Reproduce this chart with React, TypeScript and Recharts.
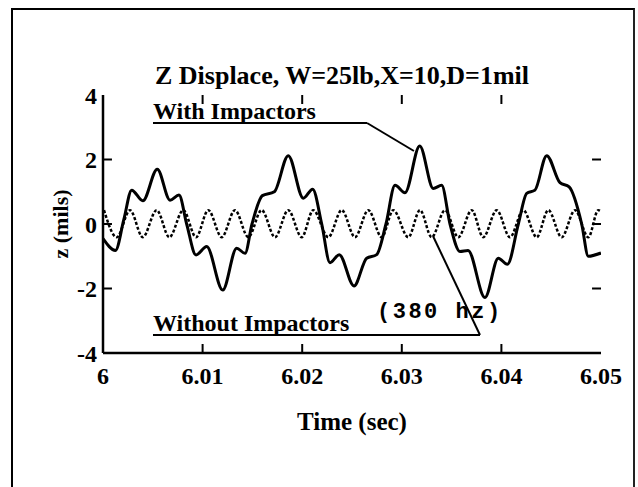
import {
  Line,
  LineChart,
  ReferenceDot,
  ReferenceLine,
  XAxis,
  YAxis,
} from 'recharts';

// time axis (sec) and displacement axis (mils)
const timeTicks = [6, 6.01, 6.02, 6.03, 6.04, 6.05];
const zTicks = [-4, -2, 0, 2, 4];

// "With Impactors" trace at its peaks, dips and crossings
const withTimes = [
  6.0, 6.00125, 6.0021, 6.00288, 6.004, 6.00545, 6.00673, 6.00763, 6.0084, 6.00934,
  6.01041, 6.01202, 6.01342, 6.01426, 6.01496, 6.016, 6.0172, 6.0186, 6.02011, 6.02105,
  6.02196, 6.02279, 6.02372, 6.0252, 6.02647, 6.02748, 6.02841, 6.02932, 6.03032, 6.0318,
  6.03316, 6.034, 6.03484, 6.03584, 6.03665, 6.03835, 6.03969, 6.0406, 6.0417, 6.04254,
  6.04337, 6.04455, 6.04588, 6.0468, 6.04806, 6.04873, 6.05,
];
const withValues = [
  -0.45, -0.82, 0.15, 1.05, 0.72, 1.7, 0.74, 0.9, 0.0, -0.96,
  -0.7, -2.05, -0.75, -0.91, 0.0, 0.88, 1.0, 2.12, 0.8, 1.08,
  0.0, -1.2, -0.95, -1.92, -1.06, -0.95, 0.0, 1.2, 0.97, 2.42,
  1.1, 1.2, 0.0, -0.85, -0.82, -2.28, -1.06, -1.25, 0.0, 0.95,
  1.05, 2.12, 1.28, 1.15, 0.0, -1.0, -0.9,
];

// "Without Impactors" trace (380 hz), peaks and troughs
const withoutTimes = [
  6.0001, 6.00138, 6.00271, 6.00399, 6.00539, 6.00666, 6.00806, 6.00934, 6.01057, 6.01192,
  6.01325, 6.01459, 6.01593, 6.01727, 6.0186, 6.01995, 6.02111, 6.02262, 6.02397, 6.0253,
  6.02664, 6.02798, 6.02915, 6.03065, 6.03183, 6.033, 6.03434, 6.03567, 6.03702, 6.03818,
  6.03953, 6.04086, 6.0422, 6.04354, 6.04471, 6.04605, 6.04739, 6.04873, 6.04973, 6.05,
];
const withoutValues = [
  0.43, -0.41, 0.43, -0.41, 0.43, -0.41, 0.43, -0.41, 0.43, -0.41,
  0.43, -0.41, 0.43, -0.41, 0.43, -0.41, 0.43, -0.41, 0.43, -0.41,
  0.43, -0.41, 0.43, -0.41, 0.43, -0.41, 0.43, -0.41, 0.43, -0.41,
  0.43, -0.41, 0.43, -0.41, 0.43, -0.41, 0.43, -0.41, 0.43, 0.4,
];

const withData = withTimes.map((t, i) => ({ t, z: withValues[i] }));
const withoutData = withoutTimes.map((t, i) => ({ t, z: withoutValues[i] }));

const serif = "'Liberation Serif', 'Times New Roman', serif";
const mono = "'Liberation Mono', 'Courier New', monospace";

// inward tick length, in data units
const TX = 0.0009;
const TY = 0.28;

const textAt =
  (label: string, family: string, size: number, spacing = 0) =>
  (p: any) => (
    <text
      x={p.cx}
      y={p.cy}
      fontFamily={family}
      fontSize={size}
      fontWeight="bold"
      letterSpacing={spacing}
      fill="#000"
    >
      {label}
    </text>
  );

const tickFmt = (v: number) => (v === 6 ? '6' : v.toFixed(2));

export default function App() {
  const tickStyle = { fontFamily: serif, fontSize: 24, fontWeight: 'bold', fill: '#000' };
  const inner = (v: number, lo: number, hi: number) => v > lo && v < hi;

  return (
    <div
      style={{
        position: 'absolute',
        left: 0,
        top: 0,
        width: 638,
        height: 487,
        background: '#fff',
        overflow: 'hidden',
      }}
    >
      <div
        style={{
          position: 'absolute',
          left: 11,
          top: 8,
          width: 620,
          height: 490,
          borderLeft: '2px solid #000',
          borderTop: '2px solid #000',
          borderRight: '2px solid #222',
        }}
      />
      <LineChart
        width={638}
        height={487}
        margin={{ top: 95, right: 37, bottom: 104, left: 53 }}
        style={{ position: 'absolute', left: 0, top: 0 }}
      >
        <XAxis
          dataKey="t"
          type="number"
          domain={[6, 6.05]}
          ticks={timeTicks}
          tickFormatter={tickFmt}
          allowDataOverflow
          height={30}
          axisLine={{ stroke: '#000', strokeWidth: 2.5 }}
          tickLine={false}
          tickSize={0}
          tickMargin={14}
          tick={tickStyle}
          interval={0}
        />
        <XAxis
          xAxisId="top"
          orientation="top"
          dataKey="t"
          type="number"
          domain={[6, 6.05]}
          ticks={timeTicks}
          tick={false}
          tickLine={false}
          height={0}
          axisLine={{ stroke: '#000', strokeWidth: 2.5 }}
        />
        <YAxis
          type="number"
          domain={[-4, 4]}
          ticks={zTicks}
          allowDataOverflow
          width={50}
          axisLine={{ stroke: '#000', strokeWidth: 2.5 }}
          tickLine={false}
          tickSize={0}
          tickMargin={6}
          tick={tickStyle}
          interval={0}
        />
        <YAxis
          yAxisId="right"
          orientation="right"
          type="number"
          domain={[-4, 4]}
          ticks={zTicks}
          tick={false}
          tickLine={false}
          width={0}
          axisLine={{ stroke: '#000', strokeWidth: 2.5 }}
        />

        {/* inward ticks on all four sides */}
        {timeTicks
          .filter((t) => inner(t, 6, 6.05))
          .map((t) => (
            <ReferenceLine
              key={`b${t}`}
              segment={[
                { x: t, y: -4 },
                { x: t, y: -4 + TY },
              ]}
              stroke="#000"
              strokeWidth={2}
            />
          ))}
        {timeTicks
          .filter((t) => inner(t, 6, 6.05))
          .map((t) => (
            <ReferenceLine
              key={`t${t}`}
              segment={[
                { x: t, y: 4 },
                { x: t, y: 4 - TY },
              ]}
              stroke="#000"
              strokeWidth={2}
            />
          ))}
        {zTicks
          .filter((z) => inner(z, -4, 4))
          .map((z) => (
            <ReferenceLine
              key={`l${z}`}
              segment={[
                { x: 6, y: z },
                { x: 6 + TX, y: z },
              ]}
              stroke="#000"
              strokeWidth={2}
            />
          ))}
        {zTicks
          .filter((z) => inner(z, -4, 4))
          .map((z) => (
            <ReferenceLine
              key={`r${z}`}
              segment={[
                { x: 6.05, y: z },
                { x: 6.05 - TX, y: z },
              ]}
              stroke="#000"
              strokeWidth={2}
            />
          ))}

        <Line
          data={withoutData}
          dataKey="z"
          type="monotone"
          stroke="#000"
          strokeWidth={2.5}
          strokeDasharray="3 2"
          dot={false}
          isAnimationActive={false}
        />
        <Line
          data={withData}
          dataKey="z"
          type="monotone"
          stroke="#000"
          strokeWidth={3}
          dot={false}
          isAnimationActive={false}
        />

        {/* With Impactors label, underline and leader */}
        <ReferenceLine
          segment={[
            { x: 6.00502, y: 3.132 },
            { x: 6.02651, y: 3.132 },
          ]}
          stroke="#000"
          strokeWidth={2}
        />
        <ReferenceLine
          segment={[
            { x: 6.02651, y: 3.132 },
            { x: 6.03122, y: 2.264 },
          ]}
          stroke="#000"
          strokeWidth={2}
        />
        <ReferenceDot x={6.00502} y={3.256} r={0} shape={textAt('With Impactors', serif, 24)} />

        {/* Without Impactors label, underline and leader */}
        <ReferenceLine
          segment={[
            { x: 6.00502, y: -3.442 },
            { x: 6.03785, y: -3.442 },
          ]}
          stroke="#000"
          strokeWidth={2}
        />
        <ReferenceLine
          segment={[
            { x: 6.03785, y: -3.442 },
            { x: 6.03313, y: -0.372 },
          ]}
          stroke="#000"
          strokeWidth={2}
        />
        <ReferenceDot x={6.00502} y={-3.318} r={0} shape={textAt('Without Impactors', serif, 24)} />
        <ReferenceDot x={6.02751} y={-2.915} r={0} shape={textAt('(380 hz)', mono, 22, 2.5)} />
      </LineChart>

      <svg
        width={638}
        height={487}
        style={{ position: 'absolute', left: 0, top: 0, pointerEvents: 'none' }}
      >
        <text
          x={342}
          y={84}
          textAnchor="middle"
          fontFamily={serif}
          fontSize={26}
          fontWeight="bold"
          fill="#000"
        >
          Z Displace, W=25lb,X=10,D=1mil
        </text>
        <text
          x={352}
          y={430}
          textAnchor="middle"
          fontFamily={serif}
          fontSize={25}
          fontWeight="bold"
          fill="#000"
        >
          Time (sec)
        </text>
        <text
          transform="translate(68,224) rotate(-90)"
          textAnchor="middle"
          fontFamily={serif}
          fontSize={22}
          fontWeight="bold"
          fill="#000"
        >
          z (mils)
        </text>
      </svg>
    </div>
  );
}
